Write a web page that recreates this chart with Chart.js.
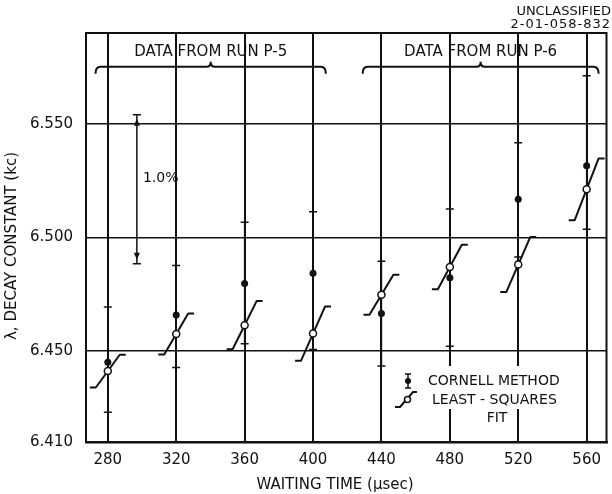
<!DOCTYPE html>
<html>
<head>
<meta charset="utf-8">
<script src="https://cdn.jsdelivr.net/npm/chart.js@4/dist/chart.umd.min.js"></script>
<style>
  html, body { margin: 0; padding: 0; background: #fff; }
</style>
</head>
<body>
<canvas id="decay" width="612" height="494"></canvas>
<script>
// waiting times (usec) and decay constants (kc)
const waitTimes = [280, 320, 360, 400, 440, 480, 520, 560]
const cornell = [6.4451, 6.4659, 6.4798, 6.4843, 6.4666, 6.4823, 6.5168, 6.5316]
const cornellLow = [6.4231, 6.4428, 6.4532, 6.4507, 6.4435, 6.4521, 6.4914, 6.5036]
const cornellHigh = [6.4694, 6.4877, 6.5067, 6.5113, 6.4896, 6.5125, 6.5417, 6.5712]
const lsqFit = [6.4412, 6.4575, 6.4614, 6.4577, 6.4748, 6.4870, 6.4881, 6.5212]
const lsqSpread = [0.0072, 0.0090, 0.0106, 0.0119, 0.0088, 0.0098, 0.0121, 0.0136]

const xTicks = [280, 320, 360, 400, 440, 480, 520, 560]
const yTicks = [6.41, 6.45, 6.50, 6.55]

const runs = [
  { label: 'DATA FROM RUN P-5', from: 272.8, to: 407.5 },
  { label: 'DATA FROM RUN P-6', from: 429, to: 567 },
]
// 1 % of lambda, shown as a bracket
const pctAt = 297
const pctTop = 6.554

const ink = '#111'
const font = "'DejaVu Sans', sans-serif"

Chart.defaults.font.family = font
Chart.defaults.color = ink

function fitPath(ctx, x, y, t, c, d) {
  // stub, slant through the fitted value, stub
  const pts = [[t - 10.5, c - d], [t - 7, c - d], [t + 7, c + d], [t + 10.5, c + d]]
  ctx.beginPath()
  pts.forEach(([a, b], i) => {
    const px = x.getPixelForValue(a), py = y.getPixelForValue(b)
    if (i) ctx.lineTo(px, py)
    else ctx.moveTo(px, py)
  })
  ctx.stroke()
}

const marks = {
  id: 'marks',
  beforeDatasetsDraw(chart) {
    const { ctx, chartArea: a, scales: { x, y } } = chart
    ctx.save()
    ctx.strokeStyle = ink
    ctx.lineWidth = 2
    ctx.beginPath()
    ctx.moveTo(a.left, a.top)
    ctx.lineTo(a.right, a.top)
    ctx.lineTo(a.right, a.bottom)
    ctx.stroke()

    // error bars
    ctx.lineWidth = 1.5
    waitTimes.forEach((t, i) => {
      const px = x.getPixelForValue(t)
      const lo = y.getPixelForValue(cornellLow[i])
      const hi = y.getPixelForValue(cornellHigh[i])
      ctx.beginPath()
      ctx.moveTo(px, lo); ctx.lineTo(px, hi)
      ctx.moveTo(px - 4, lo); ctx.lineTo(px + 4, lo)
      ctx.moveTo(px - 4, hi); ctx.lineTo(px + 4, hi)
      ctx.stroke()
    })

    // least-squares segments
    ctx.lineWidth = 2
    ctx.lineJoin = 'round'
    waitTimes.forEach((t, i) => fitPath(ctx, x, y, t, lsqFit[i], lsqSpread[i]))
    ctx.restore()
  },
  afterDraw(chart) {
    const { ctx, scales: { x, y } } = chart
    ctx.save()
    ctx.fillStyle = ink
    ctx.strokeStyle = ink
    ctx.lineWidth = 2

    // run braces and labels
    const yb = y.getPixelForValue(6.5752)
    runs.forEach(r => {
      const l = x.getPixelForValue(r.from), rr = x.getPixelForValue(r.to)
      const m = (l + rr) / 2
      ctx.beginPath()
      ctx.moveTo(l, yb + 7)
      ctx.quadraticCurveTo(l, yb, l + 5, yb)
      ctx.lineTo(m - 4, yb)
      ctx.quadraticCurveTo(m, yb, m, yb - 5)
      ctx.quadraticCurveTo(m, yb, m + 4, yb)
      ctx.lineTo(rr - 5, yb)
      ctx.quadraticCurveTo(rr, yb, rr, yb + 7)
      ctx.stroke()
      ctx.font = `15px ${font}`
      ctx.textAlign = 'center'
      ctx.textBaseline = 'middle'
      ctx.fillText(r.label, m, 52)
    })

    // 1.0 % bracket
    const bx = x.getPixelForValue(pctAt)
    const t0 = y.getPixelForValue(pctTop)
    const t1 = y.getPixelForValue(pctTop * 0.99)
    ctx.lineWidth = 1.5
    ctx.beginPath()
    ctx.moveTo(bx, t0); ctx.lineTo(bx, t1)
    ctx.moveTo(bx - 4, t0); ctx.lineTo(bx + 4, t0)
    ctx.moveTo(bx - 4, t1); ctx.lineTo(bx + 4, t1)
    ctx.stroke()
    ctx.beginPath()
    ctx.moveTo(bx, t0 + 4); ctx.lineTo(bx - 3, t0 + 11); ctx.lineTo(bx + 3, t0 + 11); ctx.closePath()
    ctx.moveTo(bx, t1 - 4); ctx.lineTo(bx - 3, t1 - 11); ctx.lineTo(bx + 3, t1 - 11); ctx.closePath()
    ctx.fill()
    ctx.font = `14px ${font}`
    ctx.textAlign = 'left'
    ctx.textBaseline = 'middle'
    ctx.fillText('1.0%', bx + 6, 178)

    // legend
    ctx.fillStyle = '#fff'
    ctx.fillRect(398, 366, 178, 43)
    ctx.fillStyle = ink
    ctx.lineWidth = 1.5
    ctx.beginPath()
    ctx.moveTo(408, 374); ctx.lineTo(408, 388)
    ctx.moveTo(405, 374); ctx.lineTo(411, 374)
    ctx.moveTo(405, 388); ctx.lineTo(411, 388)
    ctx.stroke()
    ctx.beginPath(); ctx.arc(408, 381, 3, 0, Math.PI * 2); ctx.fill()
    ctx.lineWidth = 2
    ctx.beginPath()
    ctx.moveTo(395, 407); ctx.lineTo(400, 407); ctx.lineTo(413, 392); ctx.lineTo(417, 392)
    ctx.stroke()
    ctx.fillStyle = '#fff'
    ctx.lineWidth = 1.5
    ctx.beginPath(); ctx.arc(407.5, 399.5, 3, 0, Math.PI * 2); ctx.fill(); ctx.stroke()
    ctx.fillStyle = ink
    ctx.font = `14px ${font}`
    ctx.fillText('CORNELL METHOD', 428, 381)
    ctx.fillText('LEAST - SQUARES', 432, 400)
    ctx.textAlign = 'center'
    ctx.fillText('FIT', 497, 418)

    // axis titles
    ctx.font = `15px ${font}`
    ctx.fillText('WAITING TIME (\u03bcsec)', 335, 485)
    ctx.save()
    ctx.translate(12, 246)
    ctx.rotate(-Math.PI / 2)
    ctx.fillText('\u03bb, DECAY CONSTANT (kc)', 0, 0)
    ctx.restore()

    // document marking
    ctx.textAlign = 'right'
    ctx.font = `13px ${font}`
    ctx.fillText('UNCLASSIFIED', 611, 12)
    ctx.letterSpacing = '1px'
    ctx.fillText('2-01-058-832', 611, 25)
    ctx.restore()
  }
}

new Chart(document.getElementById('decay'), {
  type: 'scatter',
  data: {
    datasets: [
      {
        label: 'CORNELL METHOD',
        data: waitTimes.map((t, i) => ({ x: t, y: cornell[i] })),
        pointRadius: 3.5,
        pointBackgroundColor: ink,
        pointBorderWidth: 0,
      },
      {
        label: 'LEAST - SQUARES FIT',
        data: waitTimes.map((t, i) => ({ x: t, y: lsqFit[i] })),
        pointRadius: 3.5,
        pointBackgroundColor: '#fff',
        pointBorderColor: ink,
        pointBorderWidth: 1.5,
      },
    ],
  },
  options: {
    responsive: false,
    animation: false,
    layout: { padding: { top: 33, right: 1, left: 0, bottom: 0 } },
    plugins: { legend: { display: false }, tooltip: { enabled: false } },
    scales: {
      x: {
        type: 'linear',
        min: 267.25,
        max: 571.6,
        afterBuildTicks: s => { s.ticks = xTicks.map(v => ({ value: v })) },
        afterFit: s => { s.height = 52 },
        grid: { color: ink, lineWidth: 2, drawTicks: false },
        border: { color: ink, width: 2.5 },
        ticks: { padding: 9, color: ink, font: { size: 15 } },
      },
      y: {
        min: 6.41,
        max: 6.59,
        afterBuildTicks: s => { s.ticks = yTicks.map(v => ({ value: v })) },
        afterFit: s => { s.width = 86 },
        grid: { color: ink, lineWidth: 1.5, drawTicks: false },
        border: { color: ink, width: 2 },
        ticks: { padding: 13, color: ink, font: { size: 15 }, callback: v => v.toFixed(3) },
      },
    },
  },
  plugins: [marks],
})
</script>
</body>
</html>
